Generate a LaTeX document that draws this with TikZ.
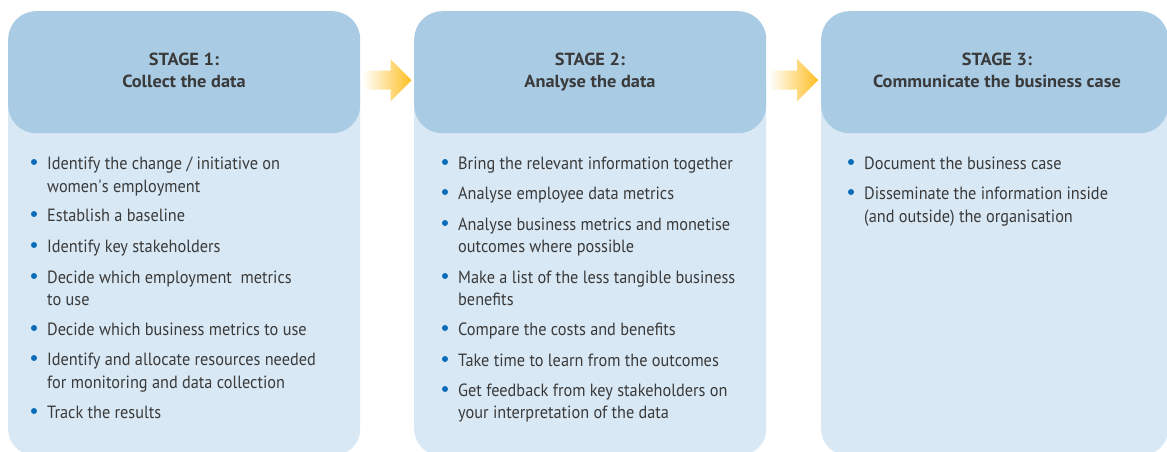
\documentclass[tikz,border=0pt]{standalone}
\usepackage{fontspec}
\setmainfont{PT Sans}[FakeStretch=0.92, BoldFeatures={FakeStretch=1.05}]
\usetikzlibrary{calc}
\definecolor{hdr}{HTML}{A9CBE4}
\definecolor{bdy}{HTML}{D8E8F4}
\definecolor{txt}{HTML}{3A3A3A}
\definecolor{bul}{HTML}{0A6CB8}
\definecolor{arr}{HTML}{FEBE22}
\begin{document}
\begin{tikzpicture}[x=1pt,y=-1pt,
  bodybox/.style={fill=bdy, rounded corners=26pt, inner sep=0, minimum width=352pt, minimum height=395pt, anchor=north west},
  headbox/.style={fill=hdr, rounded corners=28pt, inner sep=0, minimum width=352pt, minimum height=122pt, anchor=north west},
  ttl/.style={anchor=base, font=\fontsize{17.5}{20}\selectfont\bfseries, text=txt, inner sep=0},
  itm/.style={anchor=base west, font=\fontsize{17.7}{20}\selectfont, text=txt, inner sep=0},
  dot/.style={circle, fill=bul, minimum size=6pt, inner sep=0},
  flow/.style={left color=white, right color=arr, draw=none}]
\useasboundingbox (0,0) rectangle (1167,451);
\clip (0,0) rectangle (1167,451);
% boxes
\node[bodybox] (b1) at (8,60) {};
\node[headbox] (h1) at (8,11) {};
\node[bodybox] (b2) at (414,60) {};
\node[headbox] (h2) at (414,11) {};
\node[bodybox, minimum width=347pt] (b3) at (821,60) {};
\node[headbox, minimum width=347pt] (h3) at (821,11) {};
% titles
\node[ttl] (t1a) at (184,65) {STAGE 1:};
\node[ttl] (t1b) at (184,87) {Collect the data};
\node[ttl] (t2a) at (590,65) {STAGE 2:};
\node[ttl] (t2b) at (590,87) {Analyse the data};
\node[ttl] (t3a) at (997,65) {STAGE 3:};
\node[ttl] (t3b) at (997,87) {Communicate the business case};
% arrows
\coordinate (a1) at ($(h1.east)!0.5!(h2.west)+(0,8)$);
\coordinate (a2) at ($(h2.east)!0.5!(h3.west)+(0,8)$);
\foreach \c in {a1,a2}{
  \path[flow] ($(\c)+(-24.5,-9.5)$) -- ($(\c)+(3.5,-9.5)$) -- ($(\c)+(3.5,-21)$) -- ($(\c)+(24.5,0)$)
     -- ($(\c)+(3.5,21)$) -- ($(\c)+(3.5,9.5)$) -- ($(\c)+(-24.5,9.5)$) -- cycle;
}
% stage 1 items
\foreach \y in {162,214,245,276,328,358,411}{\node[dot] at (34,\y) {};}
\node[itm] (s1l1) at (47,169) {Identify the change / initiative on};
\node[itm] (s1l2) at (47,192) {women\textquotesingle s employment};
\node[itm] (s1l3) at (47,221) {Establish a baseline};
\node[itm] (s1l4) at (47,252) {Identify key stakeholders};
\node[itm] (s1l5) at (47,283) {Decide which employment\ \ metrics};
\node[itm] (s1l6) at (47,305) {to use};
\node[itm] (s1l7) at (47,335) {Decide which business metrics to use};
\node[itm] (s1l8) at (47,365) {Identify and allocate resources needed};
\node[itm] (s1l9) at (47,388) {for monitoring and data collection};
\node[itm] (s1l10) at (47,418) {Track the results};
% stage 2 items
\foreach \y in {162,192,223,276,328,359,389}{\node[dot] at (445,\y) {};}
\node[itm] (s2l1) at (458,169) {Bring the relevant information together};
\node[itm] (s2l2) at (458,199) {Analyse employee data metrics};
\node[itm] (s2l3) at (458,230) {Analyse business metrics and monetise};
\node[itm] (s2l4) at (458,252) {outcomes where possible};
\node[itm] (s2l5) at (458,283) {Make a list of the less tangible business};
\node[itm] (s2l6) at (458,305) {benefits};
\node[itm] (s2l7) at (458,335) {Compare the costs and benefits};
\node[itm] (s2l8) at (458,366) {Take time to learn from the outcomes};
\node[itm] (s2l9) at (458,396) {Get feedback from key stakeholders on};
\node[itm] (s2l10) at (458,418) {your interpretation of the data};
% stage 3 items
\foreach \y in {162,192}{\node[dot] at (851,\y) {};}
\node[itm] (s3l1) at (864,169) {Document the business case};
\node[itm] (s3l2) at (864,199) {Disseminate the information inside};
\node[itm] (s3l3) at (864,222) {(and outside) the organisation};
\end{tikzpicture}
\end{document}
